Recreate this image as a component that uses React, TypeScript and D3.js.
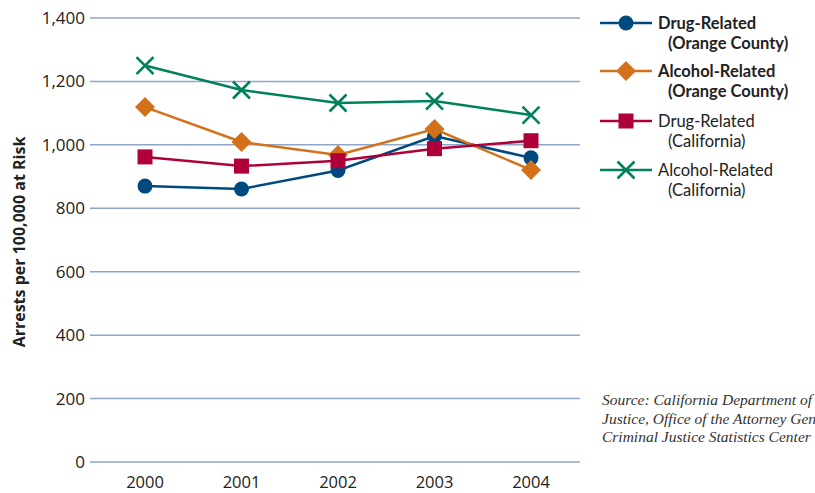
import React from 'react';
import * as d3 from 'd3';

const years = ['2000', '2001', '2002', '2003', '2004'];
const drugOC = [870, 861, 919, 1028, 959];
const alcoholOC = [1119, 1009, 968, 1050, 921];
const drugCA = [962, 933, 950, 988, 1013];
const alcoholCA = [1250, 1173, 1132, 1138, 1094];
const yTicks = [0, 200, 400, 600, 800, 1000, 1200, 1400];

const series = [
  { key: 'drugOC', values: drugOC, color: '#00497f', marker: 'circle', label: ['Drug-Related', '(Orange County)'], bold: true },
  { key: 'alcoholOC', values: alcoholOC, color: '#d2711a', marker: 'diamond', label: ['Alcohol-Related', '(Orange County)'], bold: true },
  { key: 'drugCA', values: drugCA, color: '#b0003a', marker: 'square', label: ['Drug-Related', '(California)'], bold: false },
  { key: 'alcoholCA', values: alcoholCA, color: '#00805c', marker: 'x', label: ['Alcohol-Related', '(California)'], bold: false },
];

const sourceLines = [
  'Source:  California Department of',
  'Justice, Office of the Attorney General,',
  'Criminal Justice Statistics Center',
];

const W = 815;
const H = 493;
const font = '"Open Sans", "Noto Sans", sans-serif';

const Marker: React.FC<{ type: string; x: number; y: number; color: string }> = ({ type, x, y, color }) => {
  if (type === 'circle') return <circle cx={x} cy={y} r={7.5} fill={color} />;
  if (type === 'diamond') {
    const s = 10;
    return <path d={`M${x},${y - s}L${x + s},${y}L${x},${y + s}L${x - s},${y}Z`} fill={color} />;
  }
  if (type === 'square') return <rect x={x - 7.5} y={y - 7.5} width={15} height={15} fill={color} />;
  const s = 8.5;
  return (
    <path
      d={`M${x - s},${y - s}L${x + s},${y + s}M${x - s},${y + s}L${x + s},${y - s}`}
      stroke={color}
      strokeWidth={2.6}
      fill="none"
    />
  );
};

export default function App() {
  const x = d3.scalePoint<string>().domain(years).range([145, 531]);
  const y = d3.scaleLinear().domain([0, 1400]).range([462, 18]);
  const line = d3
    .line<number>()
    .x((_, i) => x(years[i]) as number)
    .y((d) => y(d));

  const legendY = [23, 71, 121, 170];

  return (
    <svg width={W} height={H} style={{ position: 'absolute', left: 0, top: 0, background: '#fff' }} fontFamily={font}>
      {/* grid */}
      {yTicks.map((t) => (
        <g key={t}>
          <line x1={90} x2={580} y1={y(t)} y2={y(t)} stroke="#8ea6c9" strokeWidth={1.5} />
          <text x={85} y={y(t)} dy="0.35em" textAnchor="end" fontSize={17} fill="#222">
            {d3.format(',')(t)}
          </text>
        </g>
      ))}
      {years.map((yr) => (
        <text key={yr} x={x(yr)} y={488} textAnchor="middle" fontSize={16.5} fill="#222">
          {yr}
        </text>
      ))}
      <text
        transform="translate(25,242) rotate(-90)"
        textAnchor="middle"
        fontSize={16}
        fontWeight="bold"
        fill="#222"
      >
        Arrests per 100,000 at Risk
      </text>

      {/* series */}
      {series.map((s) => (
        <g key={s.key}>
          <path d={line(s.values) || ''} fill="none" stroke={s.color} strokeWidth={2.5} />
          {s.values.map((v, i) => (
            <Marker key={i} type={s.marker} x={x(years[i]) as number} y={y(v)} color={s.color} />
          ))}
        </g>
      ))}

      {/* legend */}
      {series.map((s, i) => (
        <g key={s.key} transform={`translate(0,${legendY[i]})`} fontFamily='Lato, "Open Sans", sans-serif'>
          <line x1={600} x2={652} y1={0} y2={0} stroke={s.color} strokeWidth={2.5} />
          <Marker type={s.marker} x={626} y={0} color={s.color} />
          <text x={658} y={6} fontSize={16.5} fontWeight={s.bold ? 'bold' : 'normal'} fill="#222">
            {s.label[0]}
          </text>
          <text x={668} y={26} fontSize={16.5} fontWeight={s.bold ? 'bold' : 'normal'} fill="#222">
            {s.label[1]}
          </text>
        </g>
      ))}

      {/* source */}
      {sourceLines.map((l, i) => (
        <text
          key={i}
          x={602}
          y={405 + i * 18.5}
          fontSize={15.5}
          fontStyle="italic"
          fontFamily='"Liberation Serif", "DejaVu Serif", serif'
          fill="#333"
        >
          {l}
        </text>
      ))}
    </svg>
  );
}
